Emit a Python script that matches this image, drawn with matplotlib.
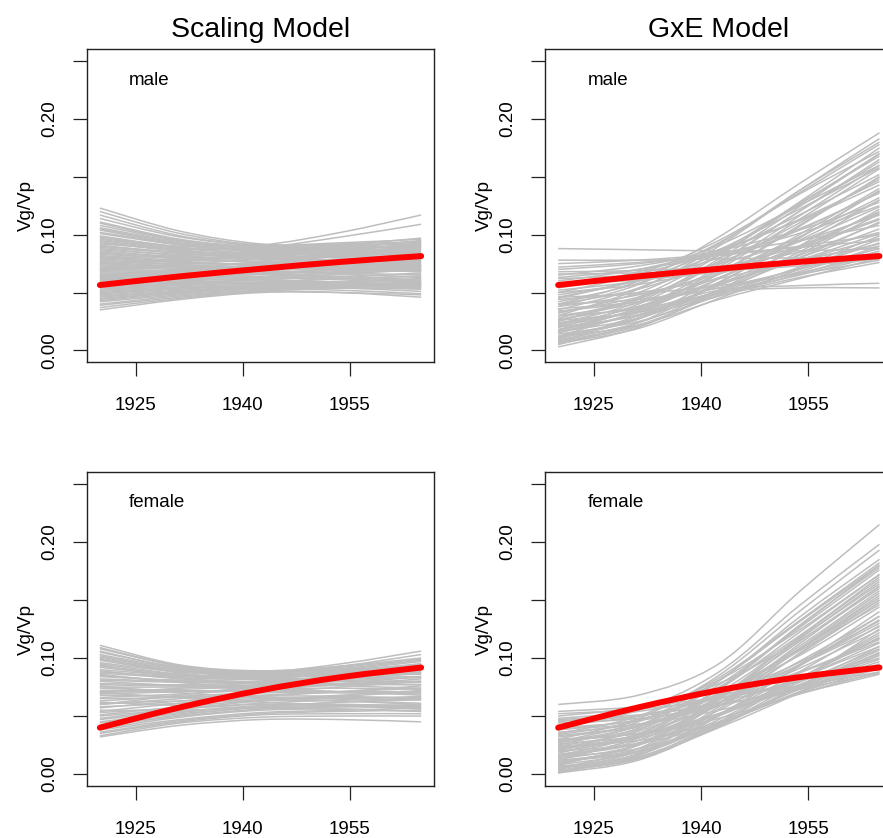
import matplotlib
matplotlib.use("Agg")
import matplotlib.pyplot as plt
from matplotlib.path import Path
from matplotlib.patches import PathPatch
import numpy as np

plt.rcParams['font.family'] = ['Liberation Sans', 'DejaVu Sans']

# ---------------- data ----------------
years = [1920, 1931.25, 1942.5, 1953.75, 1965]
x_ticks = [1925, 1940, 1955]
x_ticklabels = ["1925", "1940", "1955"]
y_ticks = [0.00, 0.05, 0.10, 0.15, 0.20, 0.25]
y_ticklabels = ["0.00", "", "0.10", "", "0.20", ""]
col_titles = ["Scaling Model", "GxE Model"]
row_labels = ["male", "female"]

red_male = [0.0565, 0.0640, 0.0705, 0.0765, 0.0815]
red_female = [0.0400, 0.0575, 0.0722, 0.0835, 0.0918]

scaling_male = [
    [0.123, 0.103, 0.092, 0.090, 0.088],
    [0.120, 0.101, 0.091, 0.092, 0.094],
    [0.117, 0.099, 0.090, 0.088, 0.086],
    [0.114, 0.098, 0.091, 0.093, 0.096],
    [0.111, 0.096, 0.089, 0.087, 0.085],
    [0.110, 0.095, 0.088, 0.085, 0.082],
    [0.108, 0.095, 0.090, 0.091, 0.092],
    [0.106, 0.094, 0.089, 0.090, 0.094],
    [0.105, 0.093, 0.088, 0.086, 0.083],
    [0.104, 0.092, 0.086, 0.085, 0.084],
    [0.102, 0.092, 0.087, 0.089, 0.091],
    [0.101, 0.091, 0.085, 0.082, 0.080],
    [0.099, 0.089, 0.083, 0.080, 0.078],
    [0.098, 0.090, 0.091, 0.102, 0.117],
    [0.097, 0.089, 0.086, 0.088, 0.090],
    [0.096, 0.088, 0.084, 0.083, 0.082],
    [0.095, 0.087, 0.081, 0.078, 0.075],
    [0.094, 0.086, 0.082, 0.084, 0.087],
    [0.093, 0.086, 0.084, 0.086, 0.089],
    [0.092, 0.088, 0.089, 0.098, 0.109],
    [0.091, 0.084, 0.079, 0.076, 0.073],
    [0.090, 0.085, 0.083, 0.087, 0.092],
    [0.089, 0.084, 0.081, 0.081, 0.081],
    [0.088, 0.082, 0.079, 0.078, 0.077],
    [0.087, 0.083, 0.082, 0.085, 0.090],
    [0.086, 0.081, 0.080, 0.083, 0.088],
    [0.085, 0.080, 0.077, 0.075, 0.074],
    [0.084, 0.079, 0.076, 0.074, 0.072],
    [0.083, 0.080, 0.079, 0.081, 0.085],
    [0.082, 0.078, 0.077, 0.079, 0.082],
    [0.081, 0.077, 0.074, 0.072, 0.070],
    [0.080, 0.082, 0.086, 0.091, 0.097],
    [0.080, 0.076, 0.073, 0.071, 0.069],
    [0.079, 0.076, 0.074, 0.073, 0.073],
    [0.078, 0.075, 0.075, 0.078, 0.083],
    [0.077, 0.074, 0.072, 0.074, 0.076],
    [0.076, 0.073, 0.071, 0.070, 0.068],
    [0.075, 0.078, 0.083, 0.089, 0.094],
    [0.075, 0.072, 0.069, 0.066, 0.063],
    [0.074, 0.072, 0.072, 0.075, 0.079],
    [0.073, 0.071, 0.070, 0.071, 0.072],
    [0.072, 0.070, 0.069, 0.067, 0.065],
    [0.071, 0.068, 0.066, 0.063, 0.060],
    [0.070, 0.074, 0.080, 0.088, 0.095],
    [0.070, 0.069, 0.070, 0.073, 0.078],
    [0.069, 0.068, 0.068, 0.069, 0.071],
    [0.068, 0.067, 0.066, 0.064, 0.061],
    [0.067, 0.066, 0.064, 0.062, 0.059],
    [0.066, 0.066, 0.067, 0.070, 0.074],
    [0.065, 0.070, 0.077, 0.085, 0.093],
    [0.065, 0.065, 0.066, 0.068, 0.070],
    [0.064, 0.064, 0.063, 0.061, 0.058],
    [0.063, 0.062, 0.061, 0.059, 0.057],
    [0.062, 0.063, 0.066, 0.071, 0.077],
    [0.061, 0.062, 0.064, 0.067, 0.069],
    [0.060, 0.066, 0.074, 0.082, 0.090],
    [0.060, 0.061, 0.061, 0.059, 0.056],
    [0.059, 0.059, 0.059, 0.058, 0.057],
    [0.058, 0.060, 0.063, 0.068, 0.073],
    [0.057, 0.059, 0.061, 0.064, 0.066],
    [0.056, 0.058, 0.059, 0.058, 0.055],
    [0.055, 0.057, 0.058, 0.057, 0.054],
    [0.054, 0.057, 0.062, 0.066, 0.070],
    [0.053, 0.056, 0.059, 0.062, 0.064],
    [0.052, 0.055, 0.057, 0.056, 0.053],
    [0.051, 0.054, 0.056, 0.057, 0.056],
    [0.050, 0.054, 0.058, 0.063, 0.067],
    [0.049, 0.053, 0.056, 0.059, 0.062],
    [0.048, 0.052, 0.055, 0.054, 0.051],
    [0.047, 0.051, 0.055, 0.057, 0.059],
    [0.046, 0.051, 0.054, 0.056, 0.058],
    [0.045, 0.050, 0.054, 0.055, 0.055],
    [0.044, 0.050, 0.053, 0.052, 0.049],
    [0.043, 0.049, 0.053, 0.054, 0.053],
    [0.042, 0.048, 0.052, 0.055, 0.060],
    [0.040, 0.047, 0.051, 0.050, 0.046],
    [0.039, 0.046, 0.052, 0.057, 0.062],
    [0.037, 0.045, 0.051, 0.054, 0.057],
    [0.035, 0.044, 0.050, 0.050, 0.048],
]

gxe_male = [
    [0.040, 0.060, 0.098, 0.144, 0.188],
    [0.030, 0.053, 0.090, 0.138, 0.183],
    [0.038, 0.057, 0.092, 0.138, 0.180],
    [0.045, 0.062, 0.093, 0.136, 0.178],
    [0.025, 0.046, 0.082, 0.128, 0.175],
    [0.050, 0.066, 0.095, 0.135, 0.172],
    [0.032, 0.050, 0.083, 0.126, 0.170],
    [0.023, 0.042, 0.079, 0.124, 0.170],
    [0.035, 0.054, 0.085, 0.127, 0.168],
    [0.020, 0.040, 0.076, 0.120, 0.165],
    [0.026, 0.044, 0.077, 0.120, 0.163],
    [0.055, 0.068, 0.091, 0.125, 0.160],
    [0.018, 0.037, 0.072, 0.116, 0.160],
    [0.046, 0.061, 0.087, 0.122, 0.158],
    [0.015, 0.034, 0.070, 0.113, 0.157],
    [0.042, 0.058, 0.084, 0.117, 0.152],
    [0.017, 0.036, 0.067, 0.108, 0.150],
    [0.016, 0.033, 0.066, 0.107, 0.150],
    [0.028, 0.045, 0.074, 0.110, 0.148],
    [0.054, 0.066, 0.086, 0.113, 0.146],
    [0.060, 0.070, 0.087, 0.112, 0.143],
    [0.010, 0.028, 0.062, 0.100, 0.140],
    [0.005, 0.024, 0.058, 0.097, 0.138],
    [0.011, 0.027, 0.059, 0.097, 0.138],
    [0.040, 0.053, 0.076, 0.104, 0.137],
    [0.048, 0.060, 0.080, 0.105, 0.136],
    [0.022, 0.038, 0.066, 0.098, 0.132],
    [0.021, 0.035, 0.062, 0.095, 0.130],
    [0.003, 0.020, 0.052, 0.090, 0.130],
    [0.065, 0.073, 0.086, 0.104, 0.128],
    [0.063, 0.070, 0.083, 0.101, 0.125],
    [0.033, 0.046, 0.068, 0.094, 0.124],
    [0.009, 0.024, 0.052, 0.085, 0.122],
    [0.012, 0.028, 0.057, 0.088, 0.120],
    [0.030, 0.041, 0.063, 0.090, 0.119],
    [0.007, 0.021, 0.050, 0.083, 0.118],
    [0.052, 0.060, 0.075, 0.094, 0.117],
    [0.050, 0.057, 0.071, 0.090, 0.114],
    [0.038, 0.048, 0.066, 0.088, 0.113],
    [0.016, 0.028, 0.052, 0.080, 0.111],
    [0.018, 0.031, 0.056, 0.082, 0.110],
    [0.070, 0.075, 0.084, 0.095, 0.108],
    [0.027, 0.038, 0.058, 0.080, 0.105],
    [0.058, 0.063, 0.072, 0.085, 0.102],
    [0.034, 0.042, 0.058, 0.078, 0.101],
    [0.072, 0.076, 0.082, 0.090, 0.100],
    [0.008, 0.022, 0.048, 0.072, 0.099],
    [0.044, 0.050, 0.062, 0.078, 0.097],
    [0.006, 0.019, 0.045, 0.070, 0.096],
    [0.075, 0.078, 0.083, 0.089, 0.095],
    [0.024, 0.033, 0.051, 0.071, 0.093],
    [0.057, 0.061, 0.068, 0.078, 0.092],
    [0.062, 0.065, 0.070, 0.079, 0.090],
    [0.026, 0.033, 0.049, 0.068, 0.090],
    [0.036, 0.042, 0.054, 0.070, 0.088],
    [0.088, 0.087, 0.086, 0.086, 0.088],
    [0.014, 0.025, 0.047, 0.066, 0.086],
    [0.068, 0.069, 0.072, 0.077, 0.084],
    [0.040, 0.044, 0.054, 0.067, 0.083],
    [0.030, 0.036, 0.050, 0.065, 0.082],
    [0.078, 0.078, 0.079, 0.080, 0.080],
    [0.012, 0.022, 0.044, 0.062, 0.080],
    [0.066, 0.067, 0.069, 0.073, 0.079],
    [0.046, 0.049, 0.056, 0.066, 0.078],
    [0.020, 0.030, 0.047, 0.063, 0.076],
    [0.012, 0.033, 0.052, 0.056, 0.058],
    [0.007, 0.030, 0.050, 0.054, 0.054],
]

scaling_female = [
    [0.111, 0.094, 0.089, 0.093, 0.100],
    [0.109, 0.093, 0.087, 0.088, 0.091],
    [0.108, 0.093, 0.088, 0.095, 0.106],
    [0.106, 0.091, 0.085, 0.086, 0.088],
    [0.105, 0.092, 0.088, 0.090, 0.094],
    [0.103, 0.091, 0.087, 0.091, 0.098],
    [0.102, 0.090, 0.087, 0.093, 0.103],
    [0.101, 0.089, 0.084, 0.085, 0.087],
    [0.100, 0.087, 0.081, 0.080, 0.079],
    [0.099, 0.089, 0.086, 0.087, 0.089],
    [0.098, 0.088, 0.085, 0.089, 0.095],
    [0.096, 0.088, 0.087, 0.092, 0.099],
    [0.095, 0.086, 0.082, 0.082, 0.083],
    [0.094, 0.083, 0.078, 0.076, 0.074],
    [0.093, 0.086, 0.084, 0.085, 0.086],
    [0.092, 0.085, 0.083, 0.086, 0.091],
    [0.090, 0.085, 0.085, 0.090, 0.097],
    [0.089, 0.082, 0.079, 0.078, 0.077],
    [0.088, 0.084, 0.083, 0.088, 0.095],
    [0.087, 0.083, 0.082, 0.083, 0.084],
    [0.086, 0.079, 0.074, 0.071, 0.068],
    [0.085, 0.080, 0.078, 0.078, 0.079],
    [0.084, 0.081, 0.082, 0.087, 0.094],
    [0.082, 0.080, 0.080, 0.083, 0.088],
    [0.081, 0.079, 0.079, 0.080, 0.080],
    [0.080, 0.076, 0.073, 0.071, 0.070],
    [0.078, 0.077, 0.079, 0.084, 0.091],
    [0.077, 0.076, 0.077, 0.080, 0.084],
    [0.076, 0.070, 0.066, 0.063, 0.060],
    [0.075, 0.075, 0.076, 0.077, 0.077],
    [0.074, 0.072, 0.071, 0.071, 0.071],
    [0.072, 0.073, 0.076, 0.081, 0.087],
    [0.071, 0.071, 0.073, 0.077, 0.082],
    [0.070, 0.074, 0.079, 0.085, 0.090],
    [0.070, 0.066, 0.062, 0.059, 0.056],
    [0.069, 0.071, 0.073, 0.074, 0.073],
    [0.068, 0.067, 0.066, 0.065, 0.064],
    [0.066, 0.069, 0.073, 0.078, 0.084],
    [0.065, 0.066, 0.068, 0.071, 0.074],
    [0.063, 0.067, 0.070, 0.070, 0.069],
    [0.062, 0.059, 0.057, 0.056, 0.054],
    [0.061, 0.063, 0.065, 0.066, 0.066],
    [0.060, 0.065, 0.070, 0.075, 0.080],
    [0.060, 0.068, 0.076, 0.084, 0.092],
    [0.058, 0.061, 0.064, 0.068, 0.072],
    [0.057, 0.063, 0.067, 0.067, 0.065],
    [0.055, 0.055, 0.058, 0.062, 0.064],
    [0.054, 0.061, 0.067, 0.071, 0.076],
    [0.053, 0.057, 0.060, 0.060, 0.059],
    [0.051, 0.058, 0.063, 0.063, 0.061],
    [0.050, 0.056, 0.061, 0.064, 0.067],
    [0.048, 0.056, 0.063, 0.067, 0.071],
    [0.047, 0.054, 0.058, 0.059, 0.058],
    [0.045, 0.053, 0.059, 0.060, 0.058],
    [0.044, 0.052, 0.057, 0.058, 0.057],
    [0.042, 0.051, 0.058, 0.062, 0.066],
    [0.041, 0.050, 0.056, 0.058, 0.060],
    [0.039, 0.049, 0.055, 0.056, 0.054],
    [0.038, 0.047, 0.053, 0.055, 0.057],
    [0.036, 0.046, 0.052, 0.054, 0.055],
    [0.035, 0.045, 0.051, 0.052, 0.052],
    [0.033, 0.044, 0.049, 0.050, 0.050],
    [0.032, 0.042, 0.047, 0.047, 0.045],
]

gxe_female = [
    [0.060, 0.068, 0.095, 0.157, 0.215],
    [0.040, 0.055, 0.088, 0.145, 0.198],
    [0.030, 0.048, 0.085, 0.140, 0.193],
    [0.020, 0.040, 0.080, 0.135, 0.185],
    [0.035, 0.050, 0.083, 0.132, 0.182],
    [0.012, 0.032, 0.073, 0.127, 0.180],
    [0.028, 0.045, 0.081, 0.131, 0.180],
    [0.016, 0.034, 0.074, 0.128, 0.178],
    [0.025, 0.042, 0.077, 0.126, 0.176],
    [0.045, 0.055, 0.081, 0.124, 0.172],
    [0.022, 0.038, 0.073, 0.122, 0.172],
    [0.034, 0.046, 0.075, 0.119, 0.170],
    [0.008, 0.026, 0.066, 0.118, 0.168],
    [0.010, 0.025, 0.064, 0.116, 0.166],
    [0.018, 0.035, 0.070, 0.117, 0.164],
    [0.005, 0.022, 0.061, 0.112, 0.162],
    [0.015, 0.031, 0.067, 0.114, 0.162],
    [0.050, 0.058, 0.078, 0.115, 0.160],
    [0.019, 0.033, 0.066, 0.110, 0.158],
    [0.004, 0.020, 0.058, 0.108, 0.156],
    [0.009, 0.025, 0.061, 0.107, 0.154],
    [0.028, 0.041, 0.069, 0.108, 0.152],
    [0.024, 0.037, 0.066, 0.107, 0.150],
    [0.001, 0.018, 0.056, 0.104, 0.150],
    [0.014, 0.029, 0.061, 0.103, 0.148],
    [0.027, 0.039, 0.068, 0.106, 0.146],
    [0.038, 0.047, 0.069, 0.102, 0.144],
    [0.002, 0.016, 0.050, 0.094, 0.140],
    [0.003, 0.017, 0.051, 0.093, 0.136],
    [0.022, 0.034, 0.061, 0.097, 0.136],
    [0.013, 0.025, 0.055, 0.093, 0.133],
    [0.042, 0.050, 0.068, 0.096, 0.132],
    [0.021, 0.032, 0.059, 0.094, 0.130],
    [0.010, 0.022, 0.051, 0.088, 0.128],
    [0.033, 0.042, 0.064, 0.094, 0.127],
    [0.001, 0.012, 0.042, 0.080, 0.125],
    [0.032, 0.041, 0.062, 0.091, 0.124],
    [0.002, 0.014, 0.044, 0.082, 0.122],
    [0.006, 0.017, 0.045, 0.082, 0.120],
    [0.008, 0.019, 0.047, 0.082, 0.118],
    [0.017, 0.027, 0.052, 0.083, 0.117],
    [0.048, 0.054, 0.067, 0.088, 0.116],
    [0.040, 0.046, 0.062, 0.087, 0.114],
    [0.016, 0.026, 0.050, 0.082, 0.113],
    [0.005, 0.015, 0.042, 0.076, 0.110],
    [0.036, 0.043, 0.059, 0.083, 0.110],
    [0.023, 0.031, 0.052, 0.079, 0.108],
    [0.003, 0.013, 0.041, 0.075, 0.107],
    [0.012, 0.020, 0.044, 0.074, 0.105],
    [0.026, 0.033, 0.051, 0.077, 0.104],
    [0.007, 0.014, 0.040, 0.070, 0.103],
    [0.046, 0.050, 0.062, 0.080, 0.102],
    [0.052, 0.056, 0.065, 0.080, 0.100],
    [0.029, 0.035, 0.052, 0.075, 0.099],
    [0.011, 0.019, 0.043, 0.073, 0.097],
    [0.015, 0.022, 0.043, 0.071, 0.095],
    [0.044, 0.048, 0.059, 0.075, 0.094],
    [0.039, 0.043, 0.055, 0.073, 0.092],
    [0.020, 0.026, 0.044, 0.070, 0.091],
    [0.024, 0.029, 0.045, 0.069, 0.088],
    [0.054, 0.058, 0.066, 0.076, 0.088],
    [0.047, 0.051, 0.060, 0.073, 0.087],
    [0.030, 0.035, 0.048, 0.069, 0.086],
]

panels = [
    [(scaling_male, red_male), (gxe_male, red_male)],
    [(scaling_female, red_female), (gxe_female, red_female)],
]


def smooth_path(xs, ys):
    """Smooth (Catmull-Rom style Bezier) path through the given data points."""
    pts = np.column_stack([xs, ys]).astype(float)
    n = len(pts)
    verts = [pts[0]]
    codes = [Path.MOVETO]
    for i in range(n - 1):
        p0 = pts[i - 1] if i > 0 else pts[i]
        p1 = pts[i]
        p2 = pts[i + 1]
        p3 = pts[i + 2] if i + 2 < n else pts[i + 1]
        verts += [p1 + (p2 - p0) / 6.0, p2 - (p3 - p1) / 6.0, p2]
        codes += [Path.CURVE4] * 3
    return Path(verts, codes)


# ---------------- layout ----------------
W, H = 883, 838
fig = plt.figure(figsize=(W / 100, H / 100), dpi=100)


def px_rect(left, top, right, bottom):
    return [left / W, 1 - bottom / H, (right - left) / W, (bottom - top) / H]


rects = [
    [px_rect(87, 49.5, 434, 362), px_rect(545.3, 49.5, 892.3, 362)],
    [px_rect(87, 472.3, 434, 785.7), px_rect(545.3, 472.3, 892.3, 785.7)],
]

FS = 13.5
for r in range(2):
    for c in range(2):
        ax = fig.add_axes(rects[r][c])
        gray_lines, red = panels[r][c]
        for g in gray_lines:
            ax.add_patch(PathPatch(smooth_path(years, g), fill=False,
                                   edgecolor="#BEBEBE", lw=1.1))
        ax.add_patch(PathPatch(smooth_path(years, red), fill=False,
                               edgecolor="#FF0000", lw=4.3, capstyle="round"))
        ax.set_xlim(1918.2, 1966.8)
        ax.set_ylim(-0.01, 0.26)
        ax.set_xticks(x_ticks)
        ax.set_xticklabels(x_ticklabels)
        ax.set_yticks(y_ticks)
        ax.set_yticklabels(y_ticklabels, rotation=90, va="center")
        ax.tick_params(axis="both", direction="out", length=10, width=0.9,
                       labelsize=FS, color="#222222")
        ax.tick_params(axis="x", pad=15.5)
        ax.tick_params(axis="y", pad=11)
        for s in ax.spines.values():
            s.set_linewidth(1.0)
            s.set_color("#222222")
        ax.set_ylabel("Vg/Vp", fontsize=FS)
        ax.yaxis.set_label_coords(-0.15, 0.5)
        ax.text(1924.1, 0.2297, row_labels[r], fontsize=FS, ha="left", va="baseline")
        if r == 0:
            ax.set_title(col_titles[c], fontsize=20.5, pad=9)

fig.savefig("out.png", dpi=100)
